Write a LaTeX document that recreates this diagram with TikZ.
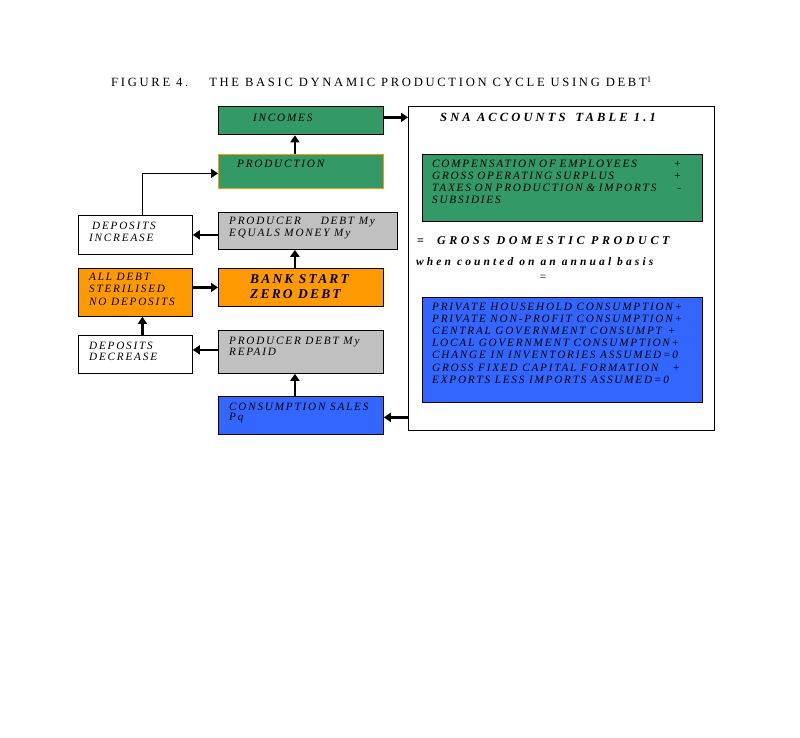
\documentclass[tikz,border=0pt]{standalone}
\usepackage{fontspec}
\setmainfont{Liberation Serif}
\newfontfamily\boxfont[LetterSpace=16]{Liberation Serif}
\newfontfamily\titlefont[LetterSpace=21.5]{Liberation Serif}
\newfontfamily\headfont[LetterSpace=25]{Liberation Serif}
\newfontfamily\whenfont[LetterSpace=27]{Liberation Serif}
\newfontfamily\gdpfont[LetterSpace=30]{Liberation Serif}
\usetikzlibrary{arrows.meta}
\definecolor{cgreen}{RGB}{51,153,102}
\definecolor{corange}{RGB}{255,153,0}
\definecolor{cgray}{RGB}{192,192,192}
\definecolor{cblue}{RGB}{51,102,255}
\begin{document}
\begin{tikzpicture}[x=1pt,y=-1pt,
  box/.style={draw=black, line width=0.8pt, anchor=north west, inner sep=0pt},
  txt/.style={anchor=north west, inner sep=0pt, align=left,
    font=\boxfont\itshape\fontsize{11.2}{12.2}\selectfont},
  bold/.style={anchor=north west, inner sep=0pt, align=left},
  arr/.style={line width=2.6pt, -{Triangle[length=7pt,width=9pt]}}]
\useasboundingbox (0,0) rectangle (800,738);
% title
\node[anchor=north west, inner sep=0pt, font=\titlefont\fontsize{12.6}{14}\selectfont] (title) at (111,76)
  {FIGURE 4.\hspace{21pt}THE BASIC DYNAMIC PRODUCTION CYCLE USING DEBT\textsuperscript{1}};
% left column boxes
\node[box, fill=cgreen, minimum width=165pt, minimum height=28pt] (inc) at (218,106.5) {};
\node[box, fill=cgreen, draw=corange, minimum width=165pt, minimum height=34pt] (prod) at (218,154) {};
\node[box, fill=cgray, minimum width=179pt, minimum height=37pt] (pdebt) at (218,212) {};
\node[box, fill=white, minimum width=114pt, minimum height=39pt] (depinc) at (78,215) {};
\node[box, fill=corange, minimum width=114pt, minimum height=48pt] (alldebt) at (78,268) {};
\node[box, fill=corange, minimum width=165pt, minimum height=38pt] (bank) at (218,268) {};
\node[box, fill=white, minimum width=114pt, minimum height=38pt] (depdec) at (78,335) {};
\node[box, fill=cgray, minimum width=165pt, minimum height=43pt] (repaid) at (218,330) {};
\node[box, fill=cblue, minimum width=165pt, minimum height=38pt] (cons) at (218,396) {};
% SNA box
\node[box, fill=white, minimum width=306pt, minimum height=324pt] (sna) at (408,106) {};
\node[box, fill=cgreen, minimum width=280pt, minimum height=67pt] (gbox) at (422,154) {};
\node[box, fill=cblue, minimum width=280pt, minimum height=105pt] (bbox) at (422,297) {};
% texts
\node[txt] (tinc) at (253,113.5) {INCOMES};
\node[txt] (tprod) at (237,159.5) {PRODUCTION};
\node[txt] (tpdebt) at (229,216.5) {PRODUCER\hspace{20pt}DEBT My\\EQUALS MONEY My};
\node[txt] (tdepinc) at (89,221.5) {\hspace{3pt}DEPOSITS\\INCREASE};
\node[txt, font=\boxfont\itshape\fontsize{11.2}{12.5}\selectfont] (talldebt) at (89,272.5) {ALL DEBT\\STERILISED\\NO DEPOSITS};
\node[bold, font=\boxfont\bfseries\itshape\fontsize{13.5}{15}\selectfont] (tbank) at (250,274.5) {BANK START\\ZERO DEBT};
\node[txt, font=\boxfont\itshape\fontsize{11.2}{11.5}\selectfont] (tdepdec) at (89,341.5) {DEPOSITS\\DECREASE};
\node[txt, font=\boxfont\itshape\fontsize{11.2}{11.5}\selectfont] (trepaid) at (229,336.5) {PRODUCER DEBT My\\REPAID};
\node[txt, font=\boxfont\itshape\fontsize{11.2}{10.5}\selectfont] (tcons) at (229,402.5) {CONSUMPTION SALES\\Pq};
\node[bold, font=\headfont\bfseries\itshape\fontsize{12.5}{14}\selectfont] (tsna) at (440,113.5) {SNA ACCOUNTS\hspace{10pt}TABLE 1.1};
\node[txt, text width=249pt] (tgreen) at (432,159.5)
  {COMPENSATION OF EMPLOYEES\hfill+\\GROSS OPERATING SURPLUS\hfill+\\TAXES ON PRODUCTION \& IMPORTS\hfill-\\SUBSIDIES};
\node[bold, font=\gdpfont\bfseries\itshape\fontsize{12}{13}\selectfont] (tgdp) at (417,236.5)
  {\textup{=}\hspace{13pt}GROSS DOMESTIC PRODUCT};
\node[bold, font=\whenfont\bfseries\itshape\fontsize{11.5}{13}\selectfont] (twhen) at (416,257)
  {when counted on an annual basis};
\node[anchor=north, inner sep=0pt, font=\fontsize{11.5}{13}\selectfont] (teq) at (543,275.5) {=};
\node[txt] (tblue) at (432,302.5)
  {PRIVATE HOUSEHOLD CONSUMPTION+\\PRIVATE NON-PROFIT CONSUMPTION+\\CENTRAL GOVERNMENT CONSUMPT\hspace{6pt}+\\LOCAL GOVERNMENT CONSUMPTION+\\CHANGE IN INVENTORIES ASSUMED=0\\GROSS FIXED CAPITAL FORMATION\hspace{14pt}+\\EXPORTS LESS IMPORTS ASSUMED=0};
% connectors
\draw[arr] ([yshift=3.5pt]inc.east) -- ([yshift=3.5pt]inc.east -| sna.west);
\draw[arr] ([xshift=-6pt]prod.north) -- ([xshift=-6pt]inc.south);
\draw[arr, line width=1.6pt] ([xshift=7pt]depinc.north) |- ([yshift=-2pt]prod.west);
\draw[arr] (pdebt.west |- depinc.east) -- (depinc.east);
\draw[arr] ([xshift=-6pt]bank.north) -- ([xshift=-6pt]bank.north |- pdebt.south);
\draw[arr] (alldebt.east |- bank.west) -- (bank.west);
\draw[arr] ([xshift=7pt]depdec.north) -- ([xshift=7pt]alldebt.south);
\draw[arr] ([yshift=2pt]repaid.west) -- ([yshift=2pt]repaid.west -| depdec.east);
\draw[arr] ([xshift=-6pt]cons.north) -- ([xshift=-6pt]repaid.south);
\draw[arr] ([yshift=-2pt]cons.east -| sna.west) -- ([yshift=-2pt]cons.east);
\end{tikzpicture}
\end{document}
